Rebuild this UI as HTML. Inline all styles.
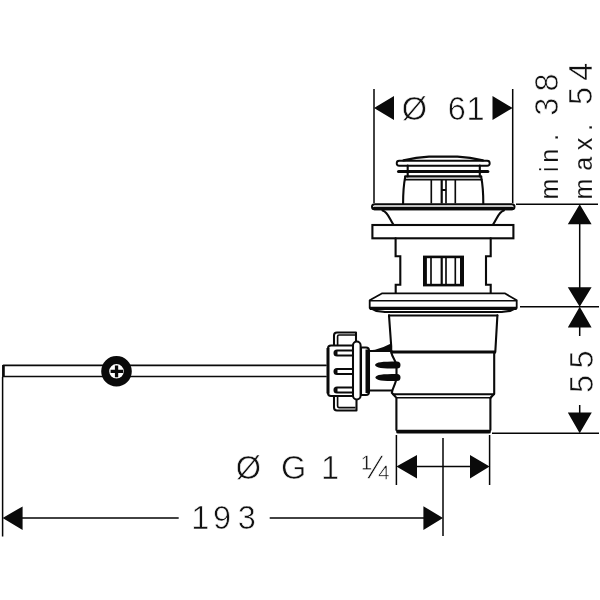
<!DOCTYPE html>
<html lang="en">
<head>
<meta charset="utf-8">
<title>Drain dimension drawing</title>
<style>
html,body{margin:0;padding:0;background:#fff;}
body{width:600px;height:600px;overflow:hidden;}
svg{display:block;filter:grayscale(1);}
text{font-family:"Liberation Sans",sans-serif;fill:#111;}
.t{font-size:32.5px;stroke:#fff;stroke-width:0.6px;paint-order:fill stroke;}
.s{font-size:25px;stroke-width:0.15px;}
.o{fill:none;stroke:#0a0a0a;stroke-width:2.1;stroke-linecap:round;stroke-linejoin:round;}
.k{fill:none;stroke:#0a0a0a;stroke-width:3;stroke-linecap:round;stroke-linejoin:round;}
.n{fill:none;stroke:#050505;stroke-width:1.5;stroke-linecap:butt;}
.m{fill:none;stroke:#0a0a0a;stroke-width:1.65;stroke-linecap:butt;}
.f{fill:#0a0a0a;stroke:none;}
.w{fill:#fff;stroke:#0a0a0a;stroke-width:2.05;stroke-linejoin:round;}
</style>
</head>
<body>
<svg width="600" height="600" viewBox="0 0 600 600">
<rect width="600" height="600" fill="#fff"/>

<!-- ===== dimension lines ===== -->
<g id="dims">
  <!-- top Ø61 -->
  <path class="n" d="M374 89V203M512.7 89V203"/>
  <path class="f" d="M374 108L394 96V120ZM512.7 108L492.5 96V120Z"/>
  <!-- right side -->
  <path class="n" d="M516 204.3H598M520 306.8H599M492 433.3H599"/>
  <path class="n" d="M579.7 222V290M579.7 325V336M579.7 405V415"/>
  <path class="f" d="M579.7 204.3L591.6 224.3H567.8ZM579.7 306.8L591.6 287.3H567.8ZM579.7 306.8L591.6 327.5H567.8ZM579.7 433.2L591.8 412.6H567.8Z"/>
  <!-- bottom G 1 1/4 -->
  <path class="n" d="M396.4 435V485M489.6 435V485M443 438V536M410 466.6H476"/>
  <path class="f" d="M396.4 466.6L417 455V478.6ZM489.6 466.6L470 455V478.6Z"/>
  <!-- 193 -->
  <path class="n" d="M2.6 377V536.5M20 518H178.7M269.7 518H425"/>
  <path class="f" d="M2.6 518L22.6 506.4V530ZM443 518L423.4 506.2V530Z"/>
</g>

<!-- ===== texts ===== -->
<g id="labels">
  <text class="t" y="120.2" x="401.8 432 447.8 466.5">Ø 61</text>
  <text class="t" y="479" x="235.8 265 281 308 321 348 361.5">Ø G 1 ¼</text>
  <text class="t" y="529.2" x="191.3 213 237.8">193</text>
  <g transform="translate(558.2 199.5) rotate(-90)"><text class="t"><tspan class="s" x="0 27.5 36.7 58.7 68">min. </tspan><tspan x="83.8 108">38</tspan></text></g>
  <g transform="translate(592 199.5) rotate(-90)"><text class="t"><tspan class="s" x="0 28.7 49.3 68.8 78">max. </tspan><tspan x="94.4 118.7">54</tspan></text></g>
  <g transform="translate(592.6 393) rotate(-90)"><text class="t" x="0 24.5">55</text></g>
</g>

<!-- ===== push rod ===== -->
<g id="rod">
  <path class="o" style="stroke-width:1.7" d="M326 365.3H3.4V376.5H326"/>
  <path class="k" style="stroke-width:2.6;stroke-linecap:butt" d="M3.4 365V377"/>
  <circle cx="116.5" cy="371.3" r="11.3" fill="#fff" stroke="#0a0a0a" stroke-width="8"/>
  <path class="f" d="M110.6 369.7h4.3v-4.1h3.3v4.1h4.9v3.3h-4.9v4.3h-3.3v-4.3h-4.3z"/>
</g>

<!-- ===== side nut ===== -->
<g id="nut">
  <!-- tabs -->
  <path class="w" d="M334 346V335.5Q334 332.5 337 332.5H356V346Z"/>
  <path class="m" d="M337.6 345V336.5Q337.6 335 339 335H355"/>
  <path class="w" d="M334 396V407.5Q334 410.5 337 410.5H356.5V396Z"/>
  <path class="m" d="M337.6 397V406Q337.6 407.6 339 407.6H355.5"/>
  <!-- body -->
  <path class="w" d="M354 345.5H331Q328 345.5 328 348.5V393Q328 396 331 396H354Z"/>
  <path class="k" style="stroke-linecap:butt" d="M328 348V393.5"/>
  <!-- ribs -->
  <path class="w" d="M354 350.5H337a2.5 2.5 0 0 0 0 5H354"/>
  <path class="w" d="M354 369H337a2.5 2.5 0 0 0 0 5H354"/>
  <path class="w" d="M354 387.5H337a2.5 2.5 0 0 0 0 5H354"/>
  <path class="f" d="M337.5 350.5a2.5 2.5 0 0 0 0 5zM337.5 369a2.5 2.5 0 0 0 0 5zM337.5 387.5a2.5 2.5 0 0 0 0 5z"/>
  <!-- collar piece -->
  <path class="w" d="M361 347.5H366Q369 347.5 369 350.5V392Q369 395 366 395H361Z"/>
  <path class="k" style="stroke-width:3.6;stroke-linecap:butt" d="M367.3 349.5V393"/>
  <!-- ring -->
  <rect class="w" x="353" y="341.5" width="7.6" height="58" rx="3.8"/>
</g>

<!-- ===== side pipe ===== -->
<g id="sidepipe">
  <path class="o" d="M369 351H391.5M369 390.5H391.7"/>
  <path class="f" d="M369.5 350.2L375 349.7Q383 348 391 343.6V352H369.5Z"/>
  <path class="f" d="M375 365C376 362 382 361.5 397 361.5a3.5 3.5 0 0 1 0 7C382 368.5 376 368 375 365Z"/>
  <path class="f" d="M375.3 377.6C376.3 374.6 382 374.1 397 374.1a3.5 3.5 0 0 1 0 7C382 381.1 376.3 380.6 375.3 377.6Z"/>
</g>

<!-- ===== drain body ===== -->
<g id="drain">
  <!-- cap -->
  <rect class="w" style="stroke-width:1.9" x="396.7" y="160.7" width="93" height="5" rx="2.5"/>
  <path class="o" style="stroke-width:2.2" d="M403.5 160.4C411 158.6 419 157.2 429 156.7H457.4C467.4 157.2 475.4 158.6 482.9 160.4"/>
  <path class="k" style="stroke-width:3.2" d="M398.6 171.5H487.8"/>
  <path class="o" d="M407.7 165.5V176.5M479.8 165.5V176.5"/>
  <path class="o" style="stroke-width:2.2" d="M405.2 176.4H481.2"/>
  <path class="o" style="stroke-width:1.9" d="M405 179.6H481.6"/>
  <path class="o" d="M405.2 177C403.6 185 403.1 194 403.1 203.5M481.2 177C482.8 185 483.3 194 483.3 203.5"/>
  <path class="m" d="M431.3 180V203.5M446 180V203.5M455.3 180V203.5"/>
  <path class="m" style="stroke-width:2.2" d="M441.7 180V203.5M441.7 190H446"/>
  <!-- upper flange -->
  <path class="w" style="stroke-width:2" d="M374.5 204.3H512A2.4 2.4 0 0 1 512 209.3H374.5A2.4 2.4 0 0 1 374.5 204.3Z"/>
  <path class="k" style="stroke-width:3.5" d="M374.2 208.6H512.3"/>
  <path class="o" d="M382.5 210.5C388 212 389.5 219 393.7 225M503.9 210.5C498.4 212 496.9 219 492.7 225"/>
  <!-- gasket -->
  <rect class="w" style="stroke-width:2.1;stroke-linejoin:miter" x="372.4" y="225" width="141" height="13.3"/>
  <!-- neck -->
  <path class="o" style="stroke-linejoin:miter" d="M395.6 238.3V256.3H400.3V284.7H395.7V293.3M490.7 238.3V256.3H486V284.7H490.7V293.3"/>
  <!-- window -->
  <rect x="424.3" y="256.9" width="38.4" height="28.2" fill="#fff" stroke="#0a0a0a" stroke-width="2.6"/>
  <path class="k" style="stroke-width:3.4;stroke-linecap:butt" d="M425.2 257V285M461.7 257V285"/>
  <path class="m" d="M431 257V285M446 257V285M455.3 257V285"/>
  <path class="m" style="stroke-width:2.2" d="M441.7 257V285"/>
  <!-- lower flange / nut -->
  <path class="w" style="stroke-width:1.8" d="M382.3 293.3H504.7L516.7 300.2V308H369.7V300.2Z"/>
  <path class="o" style="stroke-width:1.6" d="M370 300.7H516.4"/>
  <path class="k" style="stroke-width:3.2;stroke-linecap:butt" d="M369.7 308.4H516.7"/>
  <path class="f" d="M370 309L385 311V313L376 312ZM516.4 309L501.4 311V313L510.4 312Z"/>
  <path class="o" style="stroke-width:2" d="M385 312H501.4M389 315.4H497.4"/>
  <!-- main body -->
  <path class="o" style="stroke-width:2.1" d="M389 315.4L391.2 346V352M497.4 315.4L495.3 352"/>
  <path class="k" style="stroke-width:2.8;stroke-linecap:butt" d="M390.5 352H496"/>
  <path class="o" style="stroke-width:2.1" d="M494.2 353V393.7L490.6 397.7"/>
  <path class="o" style="stroke-width:2.1" d="M391.5 353C392.5 358.5 396.5 361 396.5 366V377C396.5 383 392.3 388 391.8 392.8L395.5 396.8"/>
  <path class="o" style="stroke-width:2.1" d="M393 394.3H494"/>
  <path class="o" style="stroke-width:1.6" d="M396.3 397.7H490.6"/>
  <!-- tail pipe -->
  <path class="o" style="stroke-width:2.1" d="M396.4 397.7V430M490.4 397.7V430"/>
  <path class="k" style="stroke-width:3.8" d="M398 431.7H489"/>
</g>
</svg>
</body>
</html>
